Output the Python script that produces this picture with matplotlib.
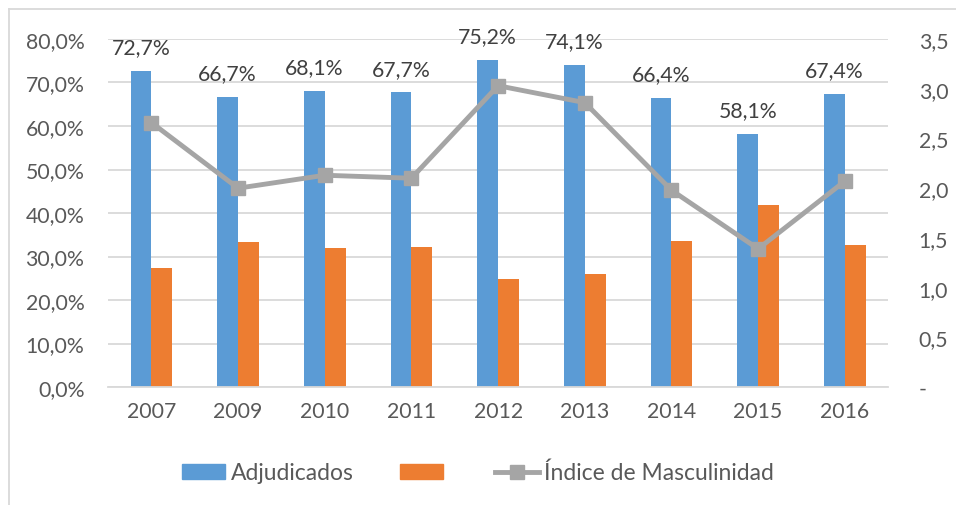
import matplotlib.pyplot as plt
import numpy as np
from matplotlib.lines import Line2D

years = ['2007', '2009', '2010', '2011', '2012', '2013', '2014', '2015', '2016']
adjudicados = [72.7, 66.7, 68.1, 67.7, 75.2, 74.1, 66.4, 58.1, 67.4]
otros = [27.3, 33.3, 31.9, 32.3, 24.8, 25.9, 33.6, 41.9, 32.6]
indice = [2.66, 2.00, 2.13, 2.10, 3.03, 2.86, 1.98, 1.39, 2.07]

plt.rcParams['font.family'] = ['Lato', 'DejaVu Sans']
txt = '#595959'
blue = '#5B9BD5'
orange = '#ED7D31'
gray = '#A5A5A5'
fs = 15.3

fig = plt.figure(figsize=(9.56, 5.06), dpi=100)
ax = fig.add_axes([0.113, 0.233, 0.816, 0.688])
ax2 = ax.twinx()

x = np.arange(len(years))
w = 0.24
ax.bar(x - w / 2, adjudicados, w, color=blue, zorder=2)
ax.bar(x + w / 2, otros, w, color=orange, zorder=2)
for xi, v in zip(x, adjudicados):
    ax.annotate(f'{v:.1f}%'.replace('.', ','), (xi - w / 2, v), xytext=(0, 10),
                textcoords='offset points', ha='center', va='bottom',
                fontsize=fs, color='#404040')

ax.set_xlim(-0.5, len(years) - 0.5)
ax.set_ylim(0, 80)
ax.set_yticks(np.arange(0, 81, 10))
ax.set_yticklabels([f'{t:.1f}%'.replace('.', ',') for t in np.arange(0, 81, 10)])
ax.set_xticks(x)
ax.set_xticklabels(years)
ax.grid(axis='y', color='#D9D9D9', linewidth=1.3, zorder=0)
ax.set_axisbelow(True)

ax2.plot(x, indice, color=gray, linewidth=3.5, marker='s', markersize=10, zorder=3)
ax2.set_ylim(0, 3.5)
ax2.set_yticks(np.arange(0, 3.51, 0.5))
ax2.set_yticklabels(['-'] + [f'{t:.1f}'.replace('.', ',') for t in np.arange(0.5, 3.51, 0.5)])

for a in (ax, ax2):
    for s in a.spines.values():
        s.set_visible(False)
    a.tick_params(length=0, labelsize=fs, labelcolor=txt)
ax.spines['bottom'].set_visible(True)
ax.spines['bottom'].set_color('#D9D9D9')
ax.spines['bottom'].set_linewidth(1.3)
ax.tick_params(axis='y', pad=17)
ax.tick_params(axis='x', pad=10)
ax2.tick_params(axis='y', pad=22)

handles = [plt.Rectangle((0, 0), 1, 1, color=blue),
           plt.Rectangle((0, 0), 1, 1, color=orange),
           Line2D([], [], color=gray, linewidth=3.5, marker='s', markersize=10)]
fig.legend(handles, ['Adjudicados', '', 'Índice de Masculinidad'],
           loc='center', bbox_to_anchor=(0.5, 0.064), ncol=3, frameon=False,
           fontsize=16.5, labelcolor=txt, handlelength=1.9, handleheight=0.65,
           columnspacing=2.0, handletextpad=0.25)

fig.add_artist(Line2D([0.0094, 0.0094], [0, 0.98], color='#D9D9D9', linewidth=1.3))
fig.add_artist(Line2D([0.0094, 1.0], [0.98, 0.98], color='#D9D9D9', linewidth=1.3))

fig.savefig('out.png', dpi=100)
